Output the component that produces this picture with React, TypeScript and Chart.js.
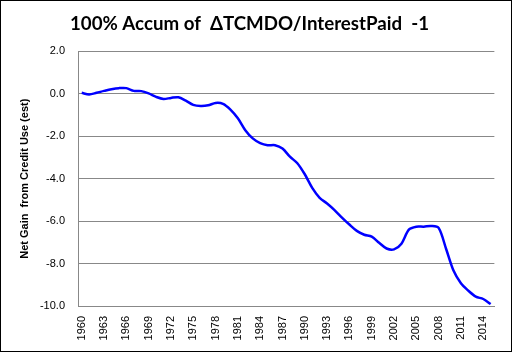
import React, { useEffect, useRef } from "react";
import { Chart, registerables } from "chart.js";

Chart.register(...registerables);

const years: string[] = [];
for (let y = 1960; y <= 2015; y++) years.push(String(y));

const values: number[] = [
  0.05, -0.03, 0.05, 0.14, 0.22, 0.27, 0.27, 0.14, 0.13, 0.02,
  -0.14, -0.24, -0.19, -0.16, -0.32, -0.52, -0.57, -0.54, -0.43, -0.47,
  -0.74, -1.15, -1.71, -2.1, -2.32, -2.42, -2.42, -2.58, -2.96, -3.27,
  -3.79, -4.43, -4.9, -5.17, -5.48, -5.83, -6.16, -6.46, -6.64, -6.73,
  -7.02, -7.29, -7.33, -7.06, -6.4, -6.26, -6.26, -6.23, -6.32, -7.3,
  -8.33, -8.93, -9.28, -9.56, -9.67, -9.91,
];

const titleText = "100% Accum of  \u0394TCMDO/InterestPaid  -1";
const yTitle = "Net Gain  from Credit Use (est)";
const yMin = -10;
const yMax = 2;
const yStep = 2;
const labelEvery = 3;

export default function App() {
  const ref = useRef<HTMLCanvasElement | null>(null);
  useEffect(() => {
    document.body.style.margin = "0";
    const ctx = ref.current!;
    const chart = new Chart(ctx, {
      type: "line",
      data: {
        labels: years,
        datasets: [
          {
            data: values,
            borderColor: "#0000FF",
            borderWidth: 2.5,
            pointRadius: 0,
            tension: 0.3,
            fill: false,
          },
        ],
      },
      options: {
        animation: false,
        responsive: true,
        maintainAspectRatio: false,
        layout: { padding: { left: 0, right: 15, top: 0, bottom: 0 } },
        plugins: {
          legend: { display: false },
          tooltip: { enabled: false },
          title: {
            display: true,
            text: titleText,
            color: "#000",
            font: { family: "Lato", size: 18.7, weight: "bold" },
            padding: { top: 13, bottom: 16 },
          },
        },
        scales: {
          x: {
            offset: true,
            grid: { display: false, drawTicks: false },
            border: { display: true, color: "#888888", width: 1 },
            ticks: {
              autoSkip: false,
              maxRotation: 90,
              minRotation: 90,
              padding: 10,
              color: "#000",
              font: { family: "Liberation Sans", size: 11 },
              callback: (_v: any, i: number) => (i % labelEvery === 0 ? years[i] : ""),
            },
            afterFit: (s: any) => {
              s.height = 47;
            },
          },
          y: {
            min: yMin,
            max: yMax,
            ticks: {
              stepSize: yStep,
              padding: 13,
              color: "#000",
              font: { family: "Liberation Sans", size: 11 },
              callback: (v: any) => Number(v).toFixed(1),
            },
            grid: { color: "#888888", drawTicks: false, lineWidth: 1 },
            border: { display: true, color: "#888888", width: 1 },
            title: {
              display: true,
              text: yTitle,
              color: "#000",
              font: { family: "Liberation Sans", size: 11, weight: "bold" },
              padding: { top: 18, bottom: 0 },
            },
            afterFit: (s: any) => {
              s.width = 78;
            },
          },
        },
      },
    });
    return () => chart.destroy();
  }, []);
  return (
    <div
      style={{
        position: "fixed",
        left: 0,
        top: 0,
        width: 514,
        height: 353,
        background: "#fff",
      }}
    >
      <canvas ref={ref} />
      <div
        style={{
          position: "absolute",
          left: 0,
          top: 0,
          width: 512,
          height: 352,
          boxSizing: "border-box",
          border: "1px solid #000",
          pointerEvents: "none",
        }}
      />
    </div>
  );
}
